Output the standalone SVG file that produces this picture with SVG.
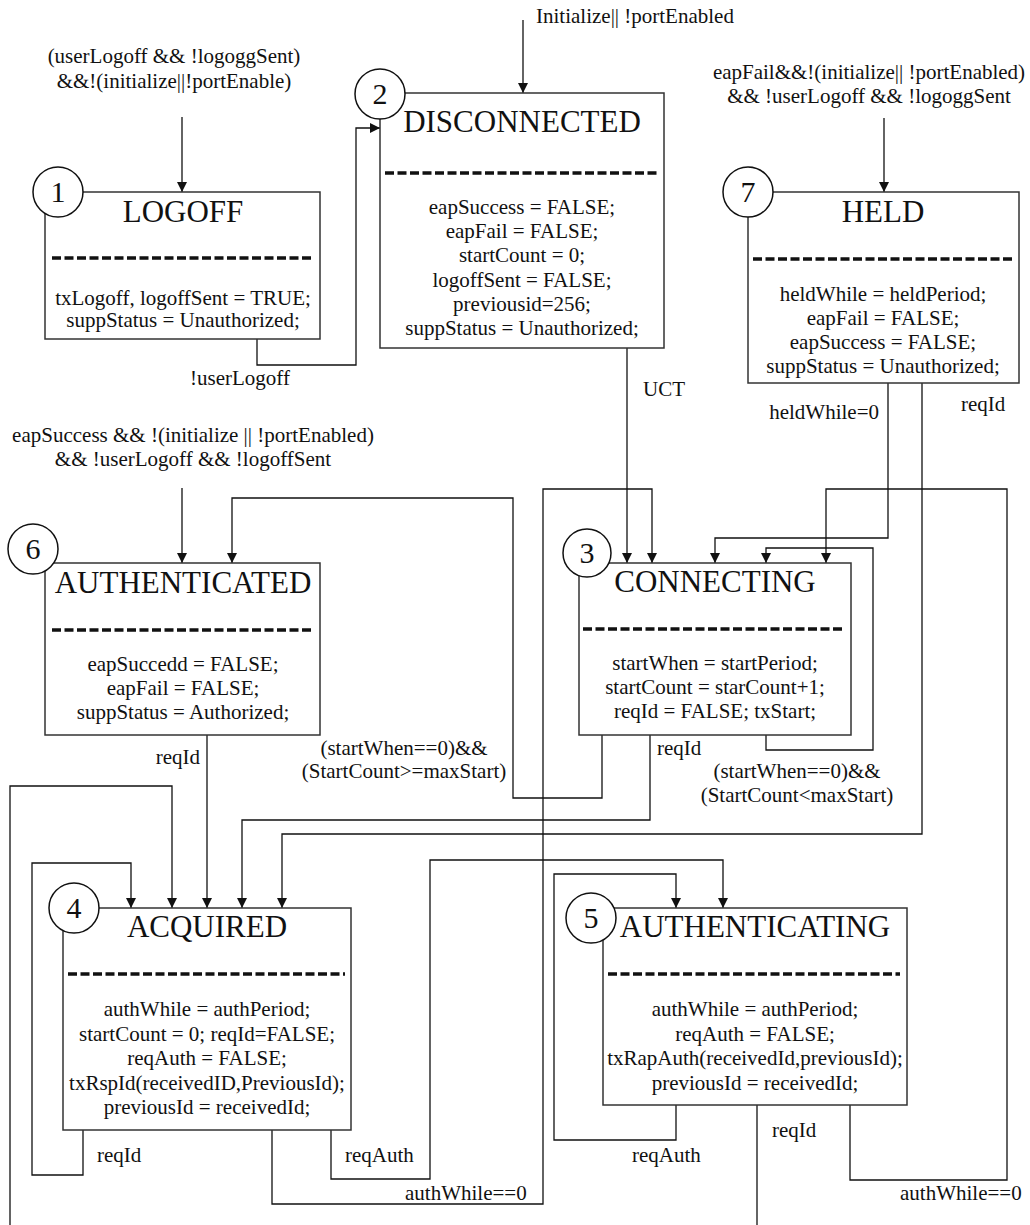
<svg xmlns="http://www.w3.org/2000/svg" width="1030" height="1225" viewBox="0 0 1030 1225">
<defs>
<marker id="arr" markerUnits="userSpaceOnUse" markerWidth="10" markerHeight="10" refX="10" refY="5" orient="auto">
<path d="M0,0 L10,5 L0,10 z" fill="#111"/>
</marker>
</defs>
<style>
text{font-family:"Liberation Serif","Times New Roman",serif;fill:#111}
.box{fill:#fff;stroke:#333;stroke-width:1.5}
.badge{fill:#fff;stroke:#111;stroke-width:1.5}
.num{font-size:30px;text-anchor:middle}
.title{font-size:31px;text-anchor:middle}
.body{font-size:21px;text-anchor:middle}
.dash{stroke:#111;stroke-width:3.5;stroke-dasharray:9 3.5}
.conn{fill:none;stroke:#111;stroke-width:1.3}
.arw{marker-end:url(#arr)}
.lbl{font-size:21px}
.mid{text-anchor:middle}
.end{text-anchor:end}
</style>
<rect width="1030" height="1225" fill="#fff"/>

<g id="connectors">
<path class="conn arw" d="M182,117 V192"/>
<path class="conn arw" d="M257,339 V365 H356 V128 H380"/>
<path class="conn arw" d="M523,20 V93"/>
<path class="conn arw" d="M884,118 V192"/>
<path class="conn arw" d="M627,348 V563"/>
<path class="conn arw" d="M888,383 V538 H715 V563"/>
<path class="conn arw" d="M766,735 V750 H873 V548 H766 V563"/>
<path class="conn arw" d="M922,383 V834 H282 V908"/>
<path class="conn arw" d="M850,1105 V1180 H1007 V489 H826 V563"/>
<path class="conn arw" d="M272,1130 V1204 H543 V489 H652 V563"/>
<path class="conn arw" d="M602,735 V798 H513 V498 H232 V563"/>
<path class="conn arw" d="M182,488 V563"/>
<path class="conn arw" d="M207,735 V908"/>
<path class="conn arw" d="M650,735 V820 H242 V908"/>
<path class="conn arw" d="M83,1130 V1175 H32 V863 H131 V908"/>
<path class="conn arw" d="M10,1225 V786 H172 V908"/>
<path class="conn" d="M757,1105 V1225"/>
<path class="conn arw" d="M331,1130 V1179 H430 V860 H723 V908"/>
<path class="conn arw" d="M676,1105 V1140 H554 V874 H676 V908"/>

<text class="lbl mid" x="174" y="63">(userLogoff &amp;&amp; !logoggSent)</text>
<text class="lbl mid" x="174" y="88">&amp;&amp;!(initialize||!portEnable)</text>
<text class="lbl mid" x="240" y="385">!userLogoff</text>
<text class="lbl" x="536" y="23">Initialize|| !portEnabled</text>
<text class="lbl mid" x="869" y="79">eapFail&amp;&amp;!(initialize|| !portEnabled)</text>
<text class="lbl mid" x="869" y="103">&amp;&amp; !userLogoff &amp;&amp; !logoggSent</text>
<text class="lbl" x="643" y="396">UCT</text>
<text class="lbl end" x="879" y="419">heldWhile=0</text>
<text class="lbl" x="961" y="411">reqId</text>
<text class="lbl mid" x="193" y="442">eapSuccess &amp;&amp; !(initialize || !portEnabled)</text>
<text class="lbl mid" x="193" y="466">&amp;&amp; !userLogoff &amp;&amp; !logoffSent</text>
<text class="lbl end" x="200" y="764">reqId</text>
<text class="lbl mid" x="404" y="755">(startWhen==0)&amp;&amp;</text>
<text class="lbl mid" x="404" y="778">(StartCount&gt;=maxStart)</text>
<text class="lbl" x="657" y="755">reqId</text>
<text class="lbl mid" x="797" y="778">(startWhen==0)&amp;&amp;</text>
<text class="lbl mid" x="797" y="802">(StartCount&lt;maxStart)</text>
<text class="lbl" x="97" y="1162">reqId</text>
<text class="lbl" x="345" y="1162">reqAuth</text>
<text class="lbl" x="405" y="1200">authWhile==0</text>
<text class="lbl" x="632" y="1162">reqAuth</text>
<text class="lbl" x="772" y="1137">reqId</text>
<text class="lbl" x="900" y="1200">authWhile==0</text>
</g>

<g id="node1">
<rect class="box" x="45" y="192" width="275" height="147"/>
<circle class="badge" cx="58" cy="192" r="25"/>
<text class="num" x="58" y="202">1</text>
<text class="title" x="183" y="222">LOGOFF</text>
<line class="dash" x1="52" y1="258" x2="313" y2="258"/>
<text class="body" x="183" y="305">txLogoff, logoffSent = TRUE;</text>
<text class="body" x="183" y="327">suppStatus = Unauthorized;</text>
</g>

<g id="node2">
<rect class="box" x="380" y="93" width="284" height="255"/>
<circle class="badge" cx="380" cy="94" r="25"/>
<text class="num" x="380" y="104">2</text>
<text class="title" x="522" y="132">DISCONNECTED</text>
<line class="dash" x1="385" y1="173" x2="657" y2="173"/>
<text class="body" x="522" y="214">eapSuccess = FALSE;</text>
<text class="body" x="522" y="238">eapFail = FALSE;</text>
<text class="body" x="522" y="262">startCount = 0;</text>
<text class="body" x="522" y="287">logoffSent = FALSE;</text>
<text class="body" x="522" y="311">previousid=256;</text>
<text class="body" x="522" y="335">suppStatus = Unauthorized;</text>
</g>

<g id="node7">
<rect class="box" x="748" y="192" width="271" height="191"/>
<circle class="badge" cx="748" cy="192" r="25"/>
<text class="num" x="748" y="202">7</text>
<text class="title" x="883" y="222">HELD</text>
<line class="dash" x1="753" y1="259" x2="1012" y2="259"/>
<text class="body" x="883" y="301">heldWhile = heldPeriod;</text>
<text class="body" x="883" y="325">eapFail = FALSE;</text>
<text class="body" x="883" y="349">eapSuccess = FALSE;</text>
<text class="body" x="883" y="373">suppStatus = Unauthorized;</text>
</g>

<g id="node6">
<rect class="box" x="45" y="563" width="275" height="172"/>
<circle class="badge" cx="33" cy="549" r="25"/>
<text class="num" x="33" y="559">6</text>
<text class="title" x="183" y="593">AUTHENTICATED</text>
<line class="dash" x1="52" y1="630" x2="313" y2="630"/>
<text class="body" x="183" y="671">eapSuccedd = FALSE;</text>
<text class="body" x="183" y="695">eapFail = FALSE;</text>
<text class="body" x="183" y="719">suppStatus = Authorized;</text>
</g>

<g id="node3">
<rect class="box" x="579" y="563" width="272" height="172"/>
<circle class="badge" cx="587" cy="553" r="24"/>
<text class="num" x="587" y="563">3</text>
<text class="title" x="715" y="592">CONNECTING</text>
<line class="dash" x1="583" y1="629" x2="845" y2="629"/>
<text class="body" x="715" y="670">startWhen = startPeriod;</text>
<text class="body" x="715" y="694">startCount = starCount+1;</text>
<text class="body" x="715" y="718">reqId = FALSE; txStart;</text>
</g>

<g id="node4">
<rect class="box" x="63" y="908" width="288" height="222"/>
<circle class="badge" cx="74" cy="908" r="25"/>
<text class="num" x="74" y="918">4</text>
<text class="title" x="207" y="937">ACQUIRED</text>
<line class="dash" x1="68" y1="974" x2="345" y2="974"/>
<text class="body" x="207" y="1016">authWhile = authPeriod;</text>
<text class="body" x="207" y="1041">startCount = 0; reqId=FALSE;</text>
<text class="body" x="207" y="1065">reqAuth = FALSE;</text>
<text class="body" x="207" y="1090">txRspId(receivedID,PreviousId);</text>
<text class="body" x="207" y="1114">previousId = receivedId;</text>
</g>

<g id="node5">
<rect class="box" x="603" y="908" width="304" height="197"/>
<circle class="badge" cx="591" cy="918" r="25"/>
<text class="num" x="591" y="928">5</text>
<text class="title" x="755" y="937">AUTHENTICATING</text>
<line class="dash" x1="608" y1="974" x2="900" y2="974"/>
<text class="body" x="755" y="1016">authWhile = authPeriod;</text>
<text class="body" x="755" y="1041">reqAuth = FALSE;</text>
<text class="body" x="755" y="1065">txRapAuth(receivedId,previousId);</text>
<text class="body" x="755" y="1090">previousId = receivedId;</text>
</g>
</svg>
